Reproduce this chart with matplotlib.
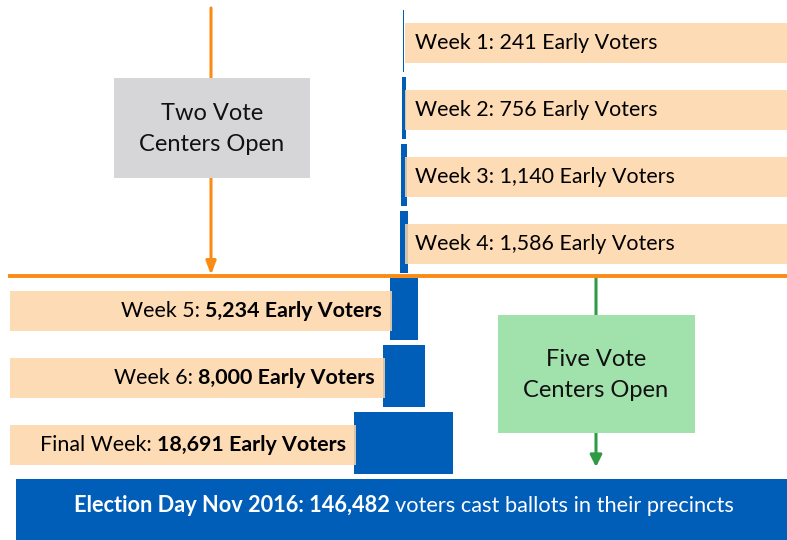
import matplotlib
matplotlib.use("Agg")
import matplotlib.pyplot as plt
from matplotlib.patches import Rectangle
from matplotlib.transforms import ScaledTranslation

plt.rcParams["font.family"] = ["Lato", "DejaVu Sans"]

# data
weeks = ["Week 1", "Week 2", "Week 3", "Week 4", "Week 5", "Week 6", "Final Week"]
early_voters = [241, 756, 1140, 1586, 5234, 8000, 18691]
election_label = "Election Day Nov 2016"
election_voters = 146482
election_note = "voters cast ballots in their precincts"
two_centers = "Two Vote\nCenters Open"
five_centers = "Five Vote\nCenters Open"

BLUE = "#005EB8"
PEACH = "#FCD5A8"
GRAY = "#D6D6D8"
GREEN_BOX = "#A1E1AC"
GREEN = "#2F9B45"
ORANGE = "#FA8C16"
FS = 15.4

# layout helpers: voters per pixel and pixel positions of the funnel centre
VPP = 189
CX = 403.8


def xpx(p):
    return (p - CX) * VPP


def ypx(p):
    return (p - 41) / 67


fig = plt.figure(figsize=(7.87, 5.40), dpi=100)
ax = fig.add_axes([0, 0, 1, 1])
ax.set_xlim(xpx(0), xpx(787))
ax.set_ylim(ypx(540), ypx(0))
ax.axis("off")
renderer = fig.canvas.get_renderer()


def mixed_text(x, y, parts, ha, **kw):
    # parts: list of (string, weight); joined with single spaces
    texts = [ax.text(x, y, s, fontweight=w, ha="left", va="center", **kw) for s, w in parts]
    widths = [t.get_window_extent(renderer).width for t in texts]
    a = ax.text(0, 0, "a a", fontsize=kw.get("fontsize", FS))
    b = ax.text(0, 0, "aa", fontsize=kw.get("fontsize", FS))
    gap = a.get_window_extent(renderer).width - b.get_window_extent(renderer).width
    a.remove()
    b.remove()
    total = sum(widths) + gap * (len(parts) - 1)
    off = {"left": 0, "center": -total / 2, "right": -total}[ha]
    for t, w in zip(texts, widths):
        t.set_transform(ax.transData + ScaledTranslation(off / fig.dpi, 0, fig.dpi_scale_trans))
        off += w + gap


rows = list(range(len(early_voters)))
ax.barh(rows, early_voters, left=[-v / 2 for v in early_voters], height=0.94,
        color=BLUE, zorder=2)
ax.barh(len(early_voters), election_voters, left=-election_voters / 2, height=0.94,
        color=BLUE, zorder=2)

# label boxes
for i, (wk, v) in enumerate(zip(weeks, early_voters)):
    yc = i + 0.03
    if i < 4:
        ax.add_patch(Rectangle((VPP, yc - 0.3), xpx(790) - VPP, 0.6,
                               color=PEACH, alpha=0.85, lw=0, zorder=3))
        ax.text(11 * VPP, yc, f"{wk}: {v:,} Early Voters", ha="left", va="center",
                fontsize=FS, color="black", zorder=4)
    else:
        right = -v / 2 + 2 * VPP
        ax.add_patch(Rectangle((xpx(10), yc - 0.3), right - xpx(10), 0.6,
                               color=PEACH, alpha=0.85, lw=0, zorder=3))
        mixed_text(right - 10 * VPP, yc, [(f"{wk}:", "normal"), (f"{v:,} Early Voters", "bold")],
                   "right", fontsize=FS, color="black", zorder=4)

mixed_text(0, ypx(506), [(f"{election_label}: {election_voters:,}", "bold"), (election_note, "normal")],
           "center", fontsize=15.7, color="white", zorder=4)

# orange divider and arrow
ax.plot([xpx(8), xpx(787)], [ypx(276), ypx(276)], color=ORANGE, lw=2.8,
        solid_capstyle="butt", zorder=5)
ax.annotate("", xy=(xpx(211), ypx(275)), xytext=(xpx(211), ypx(8)),
            arrowprops=dict(arrowstyle="-|>,head_length=0.8,head_width=0.3", color=ORANGE,
                            lw=2.2, shrinkA=0, shrinkB=0), zorder=1)
ax.annotate("", xy=(xpx(596), ypx(467)), xytext=(xpx(596), ypx(278)),
            arrowprops=dict(arrowstyle="-|>,head_length=0.7,head_width=0.35", color=GREEN,
                            lw=2.2, shrinkA=0, shrinkB=0), zorder=1)

# vote center boxes
ax.add_patch(Rectangle((xpx(114), ypx(78)), 196 * VPP, 100 / 67, color=GRAY, lw=0, zorder=3))
ax.text(xpx(212), ypx(129), two_centers, ha="center", va="center", fontsize=17,
        linespacing=1.55, color="#111111", zorder=4)
ax.add_patch(Rectangle((xpx(498), ypx(315)), 197 * VPP, 118 / 67, color=GREEN_BOX, lw=0, zorder=3))
ax.text(xpx(596), ypx(375), five_centers, ha="center", va="center", fontsize=17,
        linespacing=1.55, color="#111111", zorder=4)

fig.savefig("out.png", dpi=100)
